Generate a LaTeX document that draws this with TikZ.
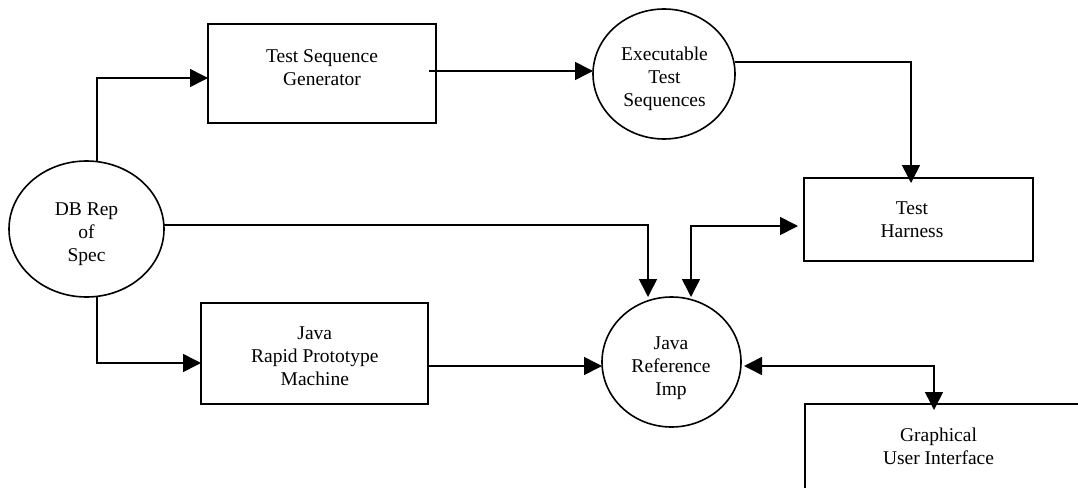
\documentclass[tikz,border=0pt]{standalone}
\usepackage{fontspec}
\setmainfont{Liberation Serif}
\usetikzlibrary{arrows.meta,shapes.geometric}

\tikzset{
  every node/.style={inner sep=0pt, outer sep=0pt},
  lbl/.style={font=\fontsize{19.5}{23}\selectfont, align=center},
  procbox/.style={draw, line width=1.6pt, rectangle},
  store/.style={draw, line width=1.6pt, ellipse},
  arr/.style={line width=1.6pt, -{Triangle[length=18pt,width=18pt]}},
  arrboth/.style={line width=1.6pt, {Triangle[length=18pt,width=18pt]}-{Triangle[length=18pt,width=18pt]}},
}

\begin{document}
\begin{tikzpicture}[x={(1pt,0)}, y={(0,-1pt)}]
  \useasboundingbox (0,0) rectangle (1078,487);
  \clip (0,0) rectangle (1078,487);

  % processes (rectangles)
  \node[procbox, minimum width=228pt, minimum height=99pt] (tsg) at (322,73.5) {};
  \node[lbl] (tsgtext) at (322,67.5) {Test Sequence\\Generator};

  \node[procbox, minimum width=227pt, minimum height=101pt] (jrpm) at (314.5,353.5) {};
  \node[lbl] (jrpmtext) at (314.8,356) {Java\\Rapid Prototype\\Machine};

  \node[procbox, minimum width=229pt, minimum height=83pt] (harness) at (918.5,219.5) {};
  \node[lbl] (harnesstext) at (912,219.5) {Test\\Harness};

  \node[procbox, minimum width=460pt, minimum height=132pt] (gui) at (1035,470) {};
  \node[lbl] (guitext) at (938.5,446.5) {Graphical\\User Interface};

  % data stores (ellipses)
  \node[store, minimum width=155pt, minimum height=136pt] (db) at (86.5,229) {};
  \node[lbl] (dbtext) at (86.5,234) {DB Rep\\of\\Spec};

  \node[store, minimum width=142pt, minimum height=130pt] (exe) at (664,74) {};
  \node[lbl] (exetext) at (664.5,79) {Executable\\Test\\Sequences};

  \node[store, minimum width=139pt, minimum height=130pt] (jri) at (671.5,362) {};
  \node[lbl] (jritext) at (671,368) {Java\\Reference\\Imp};

  % connectors
  \draw[arr] (db.north -| 97,0) |- (tsg.west |- 0,78);
  \coordinate (tsgout) at (429,71);
  \draw[arr] (tsgout) -- (tsgout -| exe.west);
  \draw[arr, shorten >=-5pt] (exe.east |- 0,62) -| (harness.north -| 911,0);
  \draw[arr] (db.east |- 0,225) -| (jri.north -| 648,0);
  \draw[arrboth, shorten >=6pt] (jri.north -| 691,0) |- (harness.west |- 0,226);
  \draw[arr] (db.south -| 97,0) |- (jrpm.west |- 0,363);
  \draw[arr] (jrpm.east |- 0,366) -- (jri.west |- 0,366);
  \draw[arrboth, shorten <=3pt, shorten >=-6pt] (jri.east |- 0,366) -| (gui.north -| 934,0);
\end{tikzpicture}
\end{document}
